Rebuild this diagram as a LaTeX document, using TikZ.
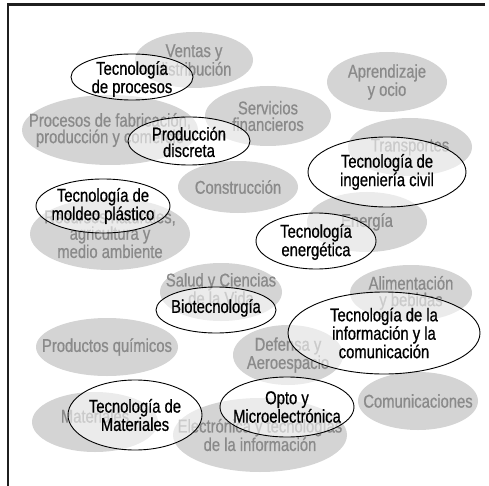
\documentclass[tikz,border=0pt]{standalone}
\usepackage{fontspec}
\setmainfont{Liberation Sans}[FakeStretch=0.8, FakeBold=0.7]
\usetikzlibrary{shapes.geometric,calc}

\tikzset{
  sector/.style={ellipse, draw=none, fill=black!17, inner sep=0pt},
  sectortext/.style={text=black!46, align=center, inner sep=0pt,
    font=\fontsize{18.5}{16.5}\selectfont},
  tech/.style={ellipse, draw=black, line width=0.9pt, fill=white,
    fill opacity=0.55, inner sep=0pt},
  techtext/.style={text=black, align=center, inner sep=0pt,
    font=\fontsize{18.5}{16.5}\selectfont},
  frameline/.style={draw=black!88, line width=2.2pt}
}

% ellipse of given half-axes, with its caption as a separate node
\newcommand{\sectorblob}[6]{%
  \node[sector, minimum width=#3*2pt, minimum height=#4*2pt] (#1) at (#2) {};
  \node[sectortext] (#1t) at ($(#1.center)+(0,#5)$) {#6};}
\newcommand{\techblob}[6]{%
  \node[tech, minimum width=#3*2pt, minimum height=#4*2pt] (#1) at (#2) {};
  \node[techtext] (#1t) at ($(#1.center)+(0,#5)$) {#6};}

\begin{document}
\begin{tikzpicture}[x=1pt, y=-1pt]
\useasboundingbox (0,0) rectangle (489,486);

% frame: top and left rules only
\coordinate (ftl) at (8.3,4.5);
\coordinate (ftr) at (485,4.5);
\coordinate (fbl) at (8.3,486);
\draw[frameline] (ftr) -- (ftl) -- (fbl);

% sector ellipses
\sectorblob{ventas}{194,60}{59}{28}{0}{Ventas y\\distribución}
\sectorblob{aprend}{387,82}{60}{30}{0}{Aprendizaje\\y ocio}
\sectorblob{servic}{268,116}{63}{30}{0}{Servicios\\financieros}
\sectorblob{fabric}{110,130}{88}{35}{0}{Procesos de fabricación,\\producción y comercio}
\sectorblob{transp}{410,147}{62}{29}{0}{Transportes}
\sectorblob{constr}{238,187}{60}{26}{0}{Construcción}
\sectorblob{energ}{367,222}{60}{30}{0}{Energía}
\sectorblob{recurs}{110,234}{80}{36}{0}{Recursos naturales,\\agricultura y\\medio ambiente}
\sectorblob{salud}{221,292}{61}{29}{-3}{Salud y Ciencias\\de la Vida}
\sectorblob{alim}{411,293}{61}{28}{0}{Alimentación\\y bebidas}
\sectorblob{quim}{107,347}{71}{29}{0}{Productos químicos}
\sectorblob{defens}{288,355}{55}{30}{0}{Defensa y\\Aeroespacio}
\sectorblob{comun}{418,401}{60}{29}{0}{Comunicaciones}
\sectorblob{mater}{95,422}{63}{30}{-6}{Materiales}
\sectorblob{electr}{260,435}{87}{37}{0}{Electrónica y tecnologías\\de la información}

% technology ellipses
\techblob{tproc}{132,77}{61}{23}{2}{Tecnología\\de procesos}
\techblob{tdisc}{189,141}{61}{24}{1}{Producción\\discreta}
\techblob{tcivil}{387,172}{79}{35}{0}{Tecnología de\\ingeniería civil}
\techblob{tmold}{103,206}{67}{27}{0}{Tecnología de\\moldeo plástico}
\techblob{tenerg}{316,241}{60}{28}{1}{Tecnología\\energética}
\techblob{tbio}{216,310}{60}{23}{-2}{Biotecnología}
\techblob{ttic}{384,333}{96}{41}{0}{Tecnología de la\\información y la\\comunicación}
\techblob{topto}{287,407}{67}{30}{0}{Opto y\\Microelectrónica}
\techblob{tmat}{135,415}{67}{35}{0}{Tecnología de\\Materiales}
\end{tikzpicture}
\end{document}
